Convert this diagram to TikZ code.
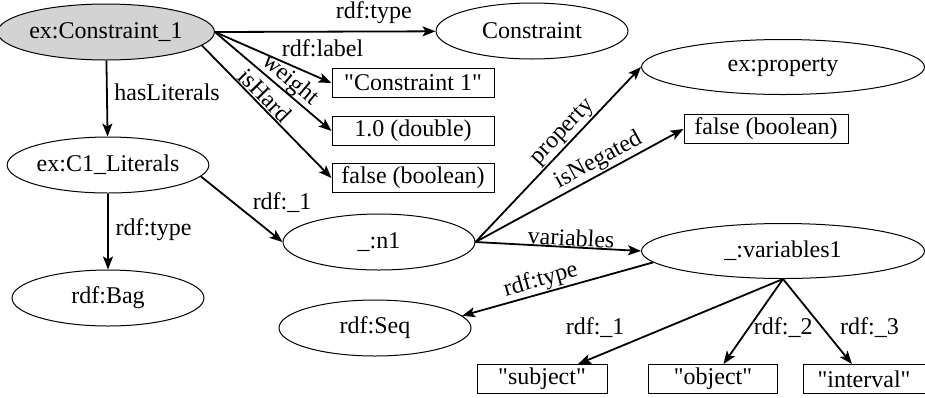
\documentclass[tikz,border=0pt]{standalone}
\usepackage{fontspec}
\setmainfont{Liberation Serif}
\usetikzlibrary{arrows.meta,shapes.geometric}
\tikzset{font=\fontsize{12}{14}\selectfont}
\definecolor{resgray}{RGB}{211,211,211}
\tikzstyle{res}=[ellipse,draw,line width=0.5pt,inner sep=0pt,minimum width=96pt,minimum height=28pt]
\tikzstyle{wide}=[res,minimum width=141.5pt,minimum height=27.5pt]
\tikzstyle{lit}=[rectangle,draw,line width=0.5pt,inner sep=1pt,minimum height=14.5pt]
\newcommand{\qt}[1]{\textquotedbl#1\textquotedbl}

\begin{document}
\begin{tikzpicture}[x=0.5pt,y=-0.5pt]
\useasboundingbox (0,0) rectangle (925,397);
\node[res,fill=resgray] (A) at (106,32) {ex:Constraint\_1};
\node[res] (B) at (532,31) {Constraint};
\node[lit,minimum width=81pt] (C) at (413,83) {\qt{Constraint 1}};
\node[lit,minimum width=81pt] (D) at (413,131) {1.0 (double)};
\node[lit,minimum width=81pt] (E) at (413,178) {false (boolean)};
\node[res] (F) at (108,165) {ex:C1\_Literals};
\node[res] (G) at (108,298) {rdf:Bag};
\node[res] (H) at (379,242) {\_:n1};
\node[wide] (I) at (783,67) {ex:property};
\node[lit,minimum width=82pt] (J) at (766,129) {false (boolean)};
\node[wide] (K) at (783,251) {\_:variables1};
\node[res] (L) at (375,328) {rdf:Seq};
\node[lit,minimum width=65pt] (M) at (542,379) {\qt{subject}};
\node[lit,minimum width=64.5pt] (N) at (713,379) {\qt{object}};
\node[lit,minimum width=61pt] (O) at (864,379) {\qt{interval}};
%\node (P) at (600,200) {};
\path[->,line width=0.9pt,>={Stealth[length=6.5pt,width=5pt,inset=1.5pt]}]
(A.east) edge node[pos=0.72,above]{rdf:type} (B)
(A.east) edge node[pos=0.55,anchor=south west,inner sep=1pt]{rdf:label} (C.west)
(A.east) edge node[pos=0.58,sloped,above,inner sep=0pt]{weight} (D.west)
(A.-8) edge node[pos=0.43,sloped,above,inner sep=0.5pt]{isHard} (E.west)
(A) edge node[right,pos=0.42]{hasLiterals} (F)
(F.-7) edge node[pos=0.6,anchor=south west,inner sep=1pt]{rdf:\_1} (H.west)
(F) edge node[right,pos=0.47]{rdf:type} (G)
(H.east) edge node[pos=0.58,sloped,above,inner sep=0.5pt]{property} (I.west)
(H.east) edge node[pos=0.62,sloped,above,inner sep=0.5pt]{isNegated} (J.west)
(H.east) edge node[pos=0.575,sloped,above,inner sep=0pt]{variables} (K.west)
(K.185) edge node[pos=0.57,sloped,above,inner sep=0.5pt]{rdf:type} (L.8)
(K.south) edge node[pos=0.75,anchor=south east,inner sep=2pt]{rdf:\_1} (M)
(K.south) edge node[pos=0.57,right,inner sep=2pt]{rdf:\_2} (N)
(K.south) edge node[pos=0.57,right,inner sep=2pt,xshift=6.5pt]{rdf:\_3} (O);
\end{tikzpicture}
\end{document}
